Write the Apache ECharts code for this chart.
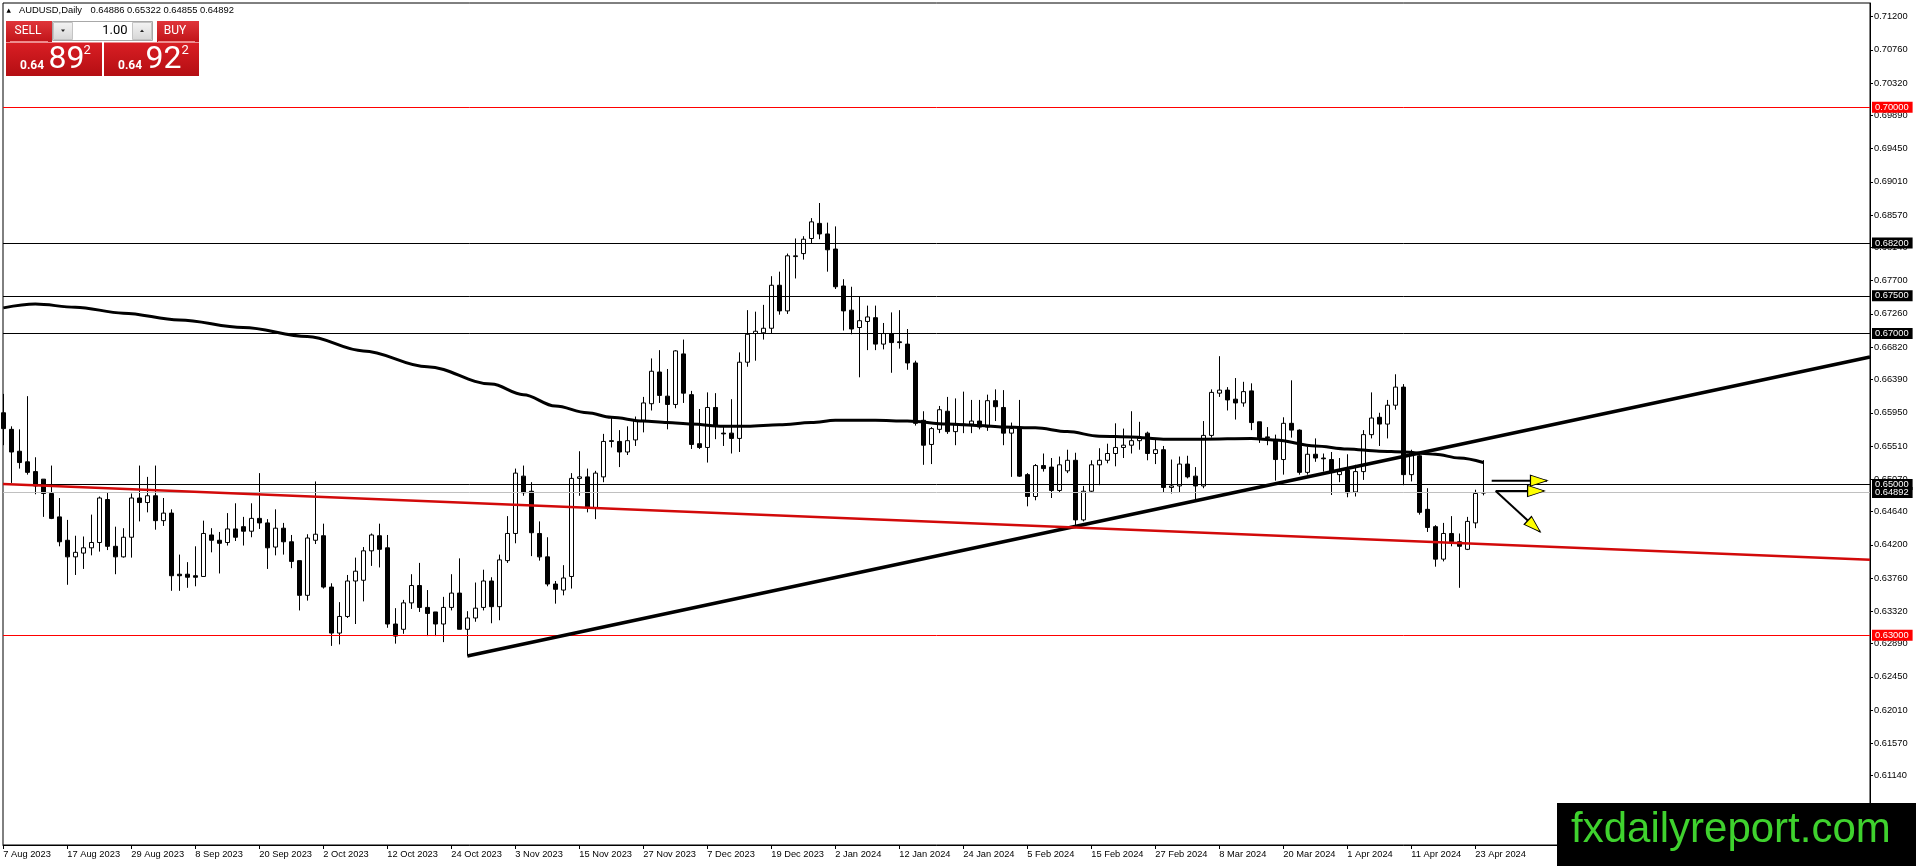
<!DOCTYPE html>
<html><head><meta charset="utf-8">
<script src="https://cdn.jsdelivr.net/npm/echarts@6/dist/echarts.min.js"></script>
<style>html,body{margin:0;padding:0;background:#fff;}#c{width:1916px;height:866px;}</style>
</head><body><div id="c"></div>
<script>
// ---------------- DATA ----------------
const symbolName = 'AUDUSD,Daily';
const headerQuote = [0.64886, 0.65322, 0.64855, 0.64892]; // O H L C of last bar
const sellPrice = 0.64892, buyPrice = 0.64922, lotSize = '1.00';

const dateLabels = ['7 Aug 2023','17 Aug 2023','29 Aug 2023','8 Sep 2023','20 Sep 2023','2 Oct 2023','12 Oct 2023','24 Oct 2023','3 Nov 2023','15 Nov 2023','27 Nov 2023','7 Dec 2023','19 Dec 2023','2 Jan 2024','12 Jan 2024','24 Jan 2024','5 Feb 2024','15 Feb 2024','27 Feb 2024','8 Mar 2024','20 Mar 2024','1 Apr 2024','11 Apr 2024','23 Apr 2024'];
const dateLabelBars = [0,8,16,24,32,40,48,56,64,72,80,88,96,104,112,120,128,136,144,152,160,168,176,184];

const priceTicks = [0.71200,0.70760,0.70320,0.69890,0.69450,0.69010,0.68570,0.68140,0.67700,0.67260,0.66820,0.66390,0.65950,0.65510,0.65070,0.64640,0.64200,0.63760,0.63320,0.62890,0.62450,0.62010,0.61570,0.61140];

// daily candles [open, high, low, close], bar 0 = 7 Aug 2023
const candles = [
[0.6595,0.6620,0.6552,0.6574],[0.6573,0.6577,0.6502,0.6543],[0.6544,0.6573,0.6521,0.6529],[0.6530,0.6617,0.6513,0.6516],
[0.6517,0.6536,0.6487,0.6498],[0.6507,0.6507,0.6457,0.6488],[0.6488,0.6525,0.6454,0.6455],[0.6457,0.6482,0.6418,0.6424],
[0.6426,0.6453,0.6367,0.6404],[0.6404,0.6432,0.6380,0.6410],[0.6409,0.6431,0.6388,0.6416],[0.6416,0.6460,0.6406,0.6423],
[0.6423,0.6484,0.6411,0.6482],[0.6480,0.6489,0.6413,0.6418],[0.6418,0.6444,0.6381,0.6404],[0.6404,0.6442,0.6403,0.6430],
[0.6430,0.6488,0.6403,0.6482],[0.6482,0.6525,0.6451,0.6476],[0.6476,0.6510,0.6463,0.6485],[0.6485,0.6525,0.6440,0.6452],
[0.6452,0.6482,0.6445,0.6462],[0.6462,0.6467,0.6359,0.6379],[0.6381,0.6407,0.6359,0.6379],[0.6381,0.6397,0.6363,0.6377],
[0.6379,0.6418,0.6365,0.6377],[0.6378,0.6452,0.6378,0.6435],[0.6433,0.6442,0.6410,0.6426],[0.6426,0.6437,0.6382,0.6422],
[0.6423,0.6462,0.6419,0.6441],[0.6441,0.6475,0.6425,0.6430],[0.6444,0.6457,0.6419,0.6438],[0.6438,0.6475,0.6430,0.6455],
[0.6455,0.6515,0.6441,0.6449],[0.6449,0.6454,0.6388,0.6416],[0.6417,0.6467,0.6406,0.6442],[0.6442,0.6449,0.6407,0.6424],
[0.6424,0.6433,0.6389,0.6398],[0.6399,0.6399,0.6333,0.6353],[0.6353,0.6434,0.6346,0.6429],[0.6426,0.6504,0.6421,0.6434],
[0.6432,0.6448,0.6362,0.6364],[0.6364,0.6369,0.6286,0.6303],[0.6303,0.6344,0.6288,0.6325],[0.6325,0.6380,0.6323,0.6372],
[0.6372,0.6403,0.6315,0.6385],[0.6373,0.6417,0.6345,0.6412],[0.6412,0.6435,0.6392,0.6433],[0.6432,0.6448,0.6390,0.6414],
[0.6416,0.6433,0.6310,0.6315],[0.6315,0.6336,0.6289,0.6299],[0.6308,0.6347,0.6302,0.6343],[0.6343,0.6381,0.6335,0.6366],
[0.6366,0.6396,0.6331,0.6337],[0.6337,0.6360,0.6299,0.6329],[0.6331,0.6331,0.6299,0.6315],[0.6315,0.6351,0.6291,0.6337],
[0.6337,0.6381,0.6333,0.6356],[0.6356,0.6402,0.6308,0.6308],[0.6308,0.6332,0.6273,0.6323],[0.6323,0.6370,0.6318,0.6336],
[0.6337,0.6387,0.6333,0.6372],[0.6372,0.6377,0.6316,0.6338],[0.6338,0.6407,0.6320,0.6400],[0.6399,0.6458,0.6396,0.6435],
[0.6435,0.6521,0.6422,0.6515],[0.6511,0.6525,0.6485,0.6489],[0.6491,0.6503,0.6405,0.6436],[0.6435,0.6451,0.6399,0.6404],
[0.6404,0.6430,0.6365,0.6368],[0.6368,0.6372,0.6342,0.6361],[0.6360,0.6393,0.6353,0.6376],[0.6378,0.6515,0.6362,0.6508],
[0.6508,0.6544,0.6485,0.6510],[0.6510,0.6521,0.6463,0.6469],[0.6469,0.6518,0.6454,0.6515],[0.6510,0.6567,0.6503,0.6557],
[0.6558,0.6589,0.6549,0.6557],[0.6557,0.6572,0.6523,0.6543],[0.6543,0.6577,0.6539,0.6558],[0.6559,0.6590,0.6551,0.6585],
[0.6585,0.6616,0.6569,0.6608],[0.6607,0.6667,0.6598,0.6650],[0.6649,0.6678,0.6608,0.6618],[0.6617,0.6653,0.6573,0.6606],
[0.6606,0.6678,0.6601,0.6677],[0.6673,0.6692,0.6608,0.6621],[0.6619,0.6624,0.6547,0.6553],[0.6554,0.6600,0.6547,0.6549],
[0.6549,0.6622,0.6529,0.6602],[0.6602,0.6621,0.6560,0.6577],[0.6568,0.6577,0.6551,0.6567],[0.6568,0.6613,0.6541,0.6561],
[0.6561,0.6675,0.6543,0.6662],[0.6662,0.6731,0.6656,0.6699],[0.6700,0.6729,0.6664,0.6703],[0.6701,0.6738,0.6692,0.6707],
[0.6707,0.6776,0.6700,0.6764],[0.6764,0.6782,0.6725,0.6730],[0.6730,0.6806,0.6726,0.6803],[0.6802,0.6826,0.6773,0.6803],
[0.6806,0.6829,0.6798,0.6825],[0.6826,0.6853,0.6820,0.6848],[0.6846,0.6873,0.6825,0.6832],[0.6832,0.6847,0.6782,0.6811],
[0.6812,0.6842,0.6759,0.6762],[0.6763,0.6772,0.6704,0.6730],[0.6731,0.6762,0.6699,0.6706],[0.6708,0.6749,0.6642,0.6717],
[0.6716,0.6737,0.6678,0.6722],[0.6721,0.6737,0.6678,0.6686],[0.6686,0.6714,0.6679,0.6700],[0.6700,0.6728,0.6648,0.6688],
[0.6689,0.6731,0.6680,0.6688],[0.6686,0.6706,0.6652,0.6661],[0.6661,0.6664,0.6578,0.6581],[0.6585,0.6597,0.6526,0.6552],
[0.6553,0.6576,0.6527,0.6574],[0.6573,0.6604,0.6568,0.6599],[0.6597,0.6616,0.6567,0.6570],[0.6570,0.6614,0.6552,0.6579],
[0.6579,0.6623,0.6568,0.6580],[0.6580,0.6612,0.6568,0.6584],[0.6584,0.6612,0.6573,0.6576],[0.6576,0.6619,0.6571,0.6611],
[0.6611,0.6626,0.6584,0.6603],[0.6602,0.6625,0.6552,0.6568],[0.6568,0.6582,0.6510,0.6574],[0.6574,0.6612,0.6510,0.6511],
[0.6513,0.6515,0.6471,0.6484],[0.6484,0.6527,0.6479,0.6525],[0.6525,0.6541,0.6517,0.6521],[0.6523,0.6535,0.6482,0.6492],
[0.6492,0.6537,0.6489,0.6526],[0.6518,0.6546,0.6515,0.6532],[0.6532,0.6542,0.6446,0.6453],[0.6453,0.6498,0.6451,0.6491],
[0.6491,0.6532,0.6490,0.6526],[0.6526,0.6548,0.6499,0.6532],[0.6532,0.6554,0.6528,0.6541],[0.6541,0.6581,0.6524,0.6549],
[0.6549,0.6574,0.6535,0.6552],[0.6552,0.6597,0.6541,0.6558],[0.6558,0.6583,0.6546,0.6561],[0.6568,0.6570,0.6532,0.6541],
[0.6541,0.6559,0.6527,0.6546],[0.6546,0.6551,0.6490,0.6496],[0.6496,0.6533,0.6488,0.6498],[0.6498,0.6537,0.6490,0.6527],
[0.6527,0.6538,0.6508,0.6510],[0.6511,0.6523,0.6480,0.6498],[0.6498,0.6584,0.6495,0.6565],[0.6565,0.6626,0.6562,0.6622],
[0.6621,0.6670,0.6616,0.6625],[0.6625,0.6629,0.6598,0.6612],[0.6613,0.6641,0.6586,0.6608],[0.6608,0.6636,0.6603,0.6623],
[0.6624,0.6634,0.6572,0.6582],[0.6583,0.6583,0.6555,0.6562],[0.6563,0.6576,0.6552,0.6562],[0.6559,0.6566,0.6505,0.6533],
[0.6533,0.6589,0.6513,0.6581],[0.6581,0.6638,0.6562,0.6572],[0.6572,0.6573,0.6513,0.6516],[0.6516,0.6550,0.6513,0.6540],
[0.6540,0.6561,0.6530,0.6535],[0.6535,0.6541,0.6517,0.6534],[0.6533,0.6543,0.6486,0.6516],[0.6513,0.6535,0.6503,0.6517],
[0.6519,0.6540,0.6483,0.6489],[0.6490,0.6526,0.6484,0.6517],[0.6517,0.6572,0.6506,0.6566],[0.6566,0.6622,0.6561,0.6588],
[0.6589,0.6595,0.6551,0.6580],[0.6580,0.6612,0.6561,0.6605],[0.6605,0.6646,0.6599,0.6629],[0.6629,0.6633,0.6499,0.6513],
[0.6513,0.6546,0.6504,0.6543],[0.6538,0.6543,0.6460,0.6463],[0.6467,0.6495,0.6437,0.6443],[0.6444,0.6446,0.6391,0.6401],
[0.6401,0.6449,0.6398,0.6435],[0.6435,0.6458,0.6418,0.6424],[0.6424,0.6435,0.6363,0.6418],[0.6414,0.6457,0.6413,0.6451],
[0.6449,0.6493,0.6442,0.6488],[0.64886,0.65322,0.64855,0.64892]
];

// moving average: [bar, value]
const maPoints = [[0,0.6734],[4,0.6739],[9,0.6735],[15,0.6727],[22,0.6718],[30,0.6708],[38,0.6696],[45,0.6677],[53,0.6656],[61,0.6633],[65,0.6619],[69,0.6604],[73,0.6595],[76,0.6589],[80,0.6584],[83,0.6582],[86,0.6580],[90,0.6577],[93,0.6577],[97,0.6579],[101,0.6582],[104,0.6585],[109,0.6585],[113,0.6584],[118,0.6580],[122,0.6578],[125,0.6576],[129,0.6575],[133,0.6570],[137,0.6564],[141,0.6563],[145,0.6560],[150,0.6560],[156,0.6561],[159,0.6559],[164,0.6551],[168,0.6547],[172,0.6544],[175,0.6543],[179,0.6540],[182,0.6535],[185,0.6529]];

// trend lines [bar, value] end points
const supportTrend = [[58,0.62726],[233.34,0.66690]];
const redTrend = [[-0.04,0.65006],[233.34,0.64003]];

// horizontal levels
const redLevels = [0.70000, 0.63000];
const blackLevels = [0.68200, 0.67500, 0.67000, 0.65000];
const bidLevel = 0.64892;

// arrows: tail and tip [bar, value]
const arrowTails = [[186.05,0.65050],[186.55,0.64913],[186.55,0.64913]];
const arrowTips  = [[192.96,0.65050],[192.60,0.64913],[192.09,0.64374]];

const xMin = -0.04, xMax = 233.34, yMin = 0.60221, yMax = 0.71381;

// ---------------- CHART ----------------
const FONT = '"Liberation Sans", Arial, sans-serif';
const chart = echarts.init(document.getElementById('c'), null, {renderer:'canvas', width:1916, height:866});
const candleData = candles.map((c,i)=>[i, c[0], c[3], c[2], c[1]]);

const levelItems = [];
redLevels.forEach(v=>levelItems.push({yAxis:v, lineStyle:{color:'#ff0000',width:1,type:'solid'}, label:{backgroundColor:'#ff0000'}}));
blackLevels.forEach(v=>levelItems.push({yAxis:v, lineStyle:{color:'#000',width:1,type:'solid'}, label:{backgroundColor:'#000'}}));
levelItems.push({yAxis:bidLevel, lineStyle:{color:'#c0c0c0',width:1,type:'solid'}, label:{backgroundColor:'#000'}});

const redGrad = new echarts.graphic.LinearGradient(0,0,0,1,[{offset:0,color:'#e0353a'},{offset:1,color:'#c01419'}]);
const redGrad2 = new echarts.graphic.LinearGradient(0,0,0,1,[{offset:0,color:'#d91e24'},{offset:1,color:'#b40e13'}]);
const greyGrad = new echarts.graphic.LinearGradient(0,0,0,1,[{offset:0,color:'#f4f4f4'},{offset:1,color:'#d6d6d6'}]);
function splitPrice(p){const s=p.toFixed(5);return [s.slice(0,4),s.slice(4,6),s.slice(6)];}
const sp = splitPrice(sellPrice), bp = splitPrice(buyPrice);

const graphics = [
  {type:'polygon', z:100, shape:{points:[[6.5,12.8],[8.7,8.6],[10.9,12.8]]}, style:{fill:'#000'}},
  {type:'text', z:100, x:19, y:10.8, style:{text:symbolName, font:'9.4px '+FONT, fill:'#000', verticalAlign:'middle'}},
  {type:'text', z:100, x:90.5, y:10.8, style:{text:headerQuote.map(v=>v.toFixed(5)).join(' '), font:'9.4px '+FONT, fill:'#000', verticalAlign:'middle'}},
  // SELL
  {type:'rect', z:100, shape:{x:6,y:21,width:46,height:21}, style:{fill:redGrad}},
  {type:'line', z:101, shape:{x1:10,y1:41.5,x2:48,y2:41.5}, style:{stroke:'#f08a8a',lineWidth:1}},
  {type:'text', z:101, x:28, y:31, style:{text:'SELL', font:'12px Roboto', fill:'#fff', align:'center', verticalAlign:'middle'}},
  {type:'rect', z:100, shape:{x:6,y:42.5,width:96,height:33.5}, style:{fill:redGrad2}},
  {type:'text', z:101, x:20, y:66, style:{text:sp[0], font:'bold 12px Roboto', fill:'#fff', verticalAlign:'middle'}},
  {type:'text', z:101, x:48.5, y:59.5, style:{text:sp[1], font:'32px Roboto', fill:'#fff', verticalAlign:'middle'}},
  {type:'text', z:101, x:83.5, y:51, style:{text:sp[2], font:'13px Roboto', fill:'#fff', verticalAlign:'middle'}},
  // lot spinner
  {type:'rect', z:100, shape:{x:52.5,y:21.5,width:100,height:19}, style:{fill:'#fff', stroke:'#a8a8a8', lineWidth:1}},
  {type:'rect', z:101, shape:{x:53.5,y:22.5,width:19,height:17}, style:{fill:greyGrad, stroke:'#c4c4c4', lineWidth:1}},
  {type:'rect', z:101, shape:{x:132.5,y:22.5,width:19,height:17}, style:{fill:greyGrad, stroke:'#c4c4c4', lineWidth:1}},
  {type:'polygon', z:102, shape:{points:[[61,29.5],[65,29.5],[63,32]]}, style:{fill:'#222'}},
  {type:'polygon', z:102, shape:{points:[[140,32],[144,32],[142,29.5]]}, style:{fill:'#222'}},
  {type:'text', z:101, x:127.5, y:30.5, style:{text:lotSize, font:'13px Roboto', fill:'#000', align:'right', verticalAlign:'middle'}},
  // BUY
  {type:'rect', z:100, shape:{x:157,y:21,width:42,height:21}, style:{fill:redGrad}},
  {type:'line', z:101, shape:{x1:158,y1:41.5,x2:195,y2:41.5}, style:{stroke:'#f08a8a',lineWidth:1}},
  {type:'text', z:101, x:175, y:31, style:{text:'BUY', font:'12px Roboto', fill:'#fff', align:'center', verticalAlign:'middle'}},
  {type:'rect', z:100, shape:{x:104,y:42.5,width:95,height:33.5}, style:{fill:redGrad2}},
  {type:'text', z:101, x:118, y:66, style:{text:bp[0], font:'bold 12px Roboto', fill:'#fff', verticalAlign:'middle'}},
  {type:'text', z:101, x:145.5, y:59.5, style:{text:bp[1], font:'32px Roboto', fill:'#fff', verticalAlign:'middle'}},
  {type:'text', z:101, x:181.5, y:51, style:{text:bp[2], font:'13px Roboto', fill:'#fff', verticalAlign:'middle'}},
  // watermark
  {type:'rect', z:100, shape:{x:1557,y:803,width:359,height:63}, style:{fill:'#000'}},
  {type:'text', z:101, x:1571, y:830, style:{text:'fxdailyreport.com', font:'42px '+FONT, fill:'#3fd22e', verticalAlign:'middle'}}
];

const option = {
  animation:false,
  textStyle:{fontFamily:FONT},
  grid:{left:3, right:46, top:3, bottom:21, show:true, borderColor:'#000', borderWidth:1, backgroundColor:'#fff'},
  xAxis:[{type:'value', min:xMin, max:xMax, position:'bottom',
    axisLine:{show:true, onZero:false, lineStyle:{color:'#000',width:1}},
    axisTick:{show:true, customValues:dateLabelBars, length:4, lineStyle:{color:'#000'}},
    axisLabel:{show:true, customValues:dateLabelBars, align:'left', margin:5, fontSize:9.3, color:'#000', fontFamily:FONT,
      formatter:(v)=>{const k=dateLabelBars.indexOf(Math.round(v));return k>=0?dateLabels[k]:'';}},
    splitLine:{show:false}}],
  yAxis:[{type:'value', min:yMin, max:yMax, position:'right', scale:true,
    axisLine:{show:true, onZero:false, lineStyle:{color:'#000',width:1}},
    axisTick:{show:true, customValues:priceTicks, length:3, lineStyle:{color:'#000'}},
    axisLabel:{show:true, customValues:priceTicks, margin:4, fontSize:9.3, color:'#000', fontFamily:FONT,
      formatter:(v)=>v.toFixed(5)},
    splitLine:{show:false}}],
  graphic:graphics,
  series:[
    {type:'candlestick', name:'AUDUSD', data:candleData, barWidth:4, z:2,
      itemStyle:{color:'#fff', color0:'#000', borderColor:'#000', borderColor0:'#000', borderColorDoji:'#000', borderWidth:1},
      markLine:{silent:true, symbol:['none','none'], animation:false, precision:5,
        label:{show:true, position:'end', distance:2, formatter:(p)=>Number(p.value).toFixed(5), color:'#fff', fontSize:9.3, fontFamily:FONT, padding:[1,4,0,3], lineHeight:10},
        data:levelItems}},
    {type:'line', name:'MA', data:maPoints, smooth:0.35, smoothMonotone:'x', symbol:'none', z:4, lineStyle:{color:'#000', width:3}},
    {type:'line', name:'support', data:supportTrend, symbol:'none', z:5, lineStyle:{color:'#000', width:3.5}},
    {type:'line', name:'redtrend', data:redTrend, symbol:'none', z:5, lineStyle:{color:'#d20a0a', width:2.5}}
  ]
};
arrowTails.forEach((t,k)=>{
  option.series.push({type:'line', name:'arrow'+k, data:[t, arrowTips[k]], symbol:'none', z:6, lineStyle:{color:'#000', width:2}});
});
chart.setOption(option);

// arrow heads positioned via the chart's own coordinate conversion
const heads = arrowTails.map((t,k)=>{
  const a = chart.convertToPixel({gridIndex:0}, t);
  const b = chart.convertToPixel({gridIndex:0}, arrowTips[k]);
  const dx=b[0]-a[0], dy=b[1]-a[1], len=Math.hypot(dx,dy);
  const c = [b[0]-dx/len*8, b[1]-dy/len*8];
  const d = chart.convertFromPixel({gridIndex:0}, c);
  const ang = Math.atan2(-dy, dx)*180/Math.PI;
  return {value:d, symbolRotate: ang-90};
});
chart.setOption({series: option.series.concat([{type:'scatter', name:'heads', data:heads, symbol:'triangle', symbolSize:[11,17], z:7,
  itemStyle:{color:'#ffff00', borderColor:'#000', borderWidth:1, opacity:1}}])});
</script></body></html>
